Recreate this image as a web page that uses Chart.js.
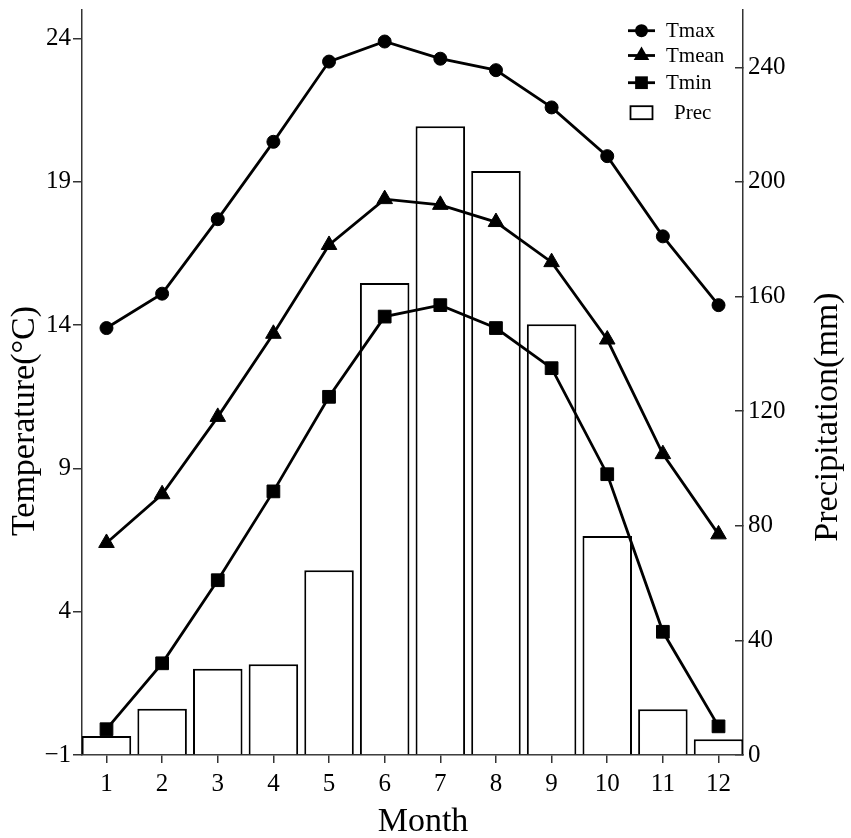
<!DOCTYPE html>
<html>
<head>
<meta charset="utf-8">
<script src="https://cdn.jsdelivr.net/npm/chart.js@4.4.0/dist/chart.umd.min.js"></script>
<style>
    body { margin: 0; background: #fff; }
    #wrap { width: 851px; height: 838px; }
</style>
</head>
<body>
<div id="wrap"><canvas id="climateChart" width="851" height="838"></canvas></div>
<script>
// Monthly climate data
const months = [1, 2, 3, 4, 5, 6, 7, 8, 9, 10, 11, 12];
const tMax = [13.9, 15.1, 17.7, 20.4, 23.2, 23.9, 23.3, 22.9, 21.6, 19.9, 17.1, 14.7];
const tMean = [6.4, 8.1, 10.8, 13.7, 16.8, 18.4, 18.2, 17.6, 16.2, 13.5, 9.5, 6.7];
const tMin = [-0.1, 2.2, 5.1, 8.2, 11.5, 14.3, 14.7, 13.9, 12.5, 8.8, 3.3, 0.0];
const prec = [6.6, 16.1, 30.1, 31.7, 64.5, 164.7, 219.4, 203.8, 150.3, 76.4, 16.0, 5.5];

const tempTicks = [-1, 4, 9, 14, 19, 24];
const precTicks = [0, 40, 80, 120, 160, 200, 240];

const seriesNames = ['Tmax', 'Tmean', 'Tmin', 'Prec'];
const FONT = "'Liberation Serif', 'Times New Roman', serif";

Chart.defaults.font.family = FONT;
Chart.defaults.color = '#000';

function toPoints(values) {
    return months.map((m, i) => ({ x: m, y: values[i] }));
}

function lineSet(label, values, style, radius) {
    return {
        type: 'line',
        label: label,
        data: toPoints(values),
        yAxisID: 'y',
        borderColor: '#000',
        backgroundColor: '#000',
        borderWidth: 2.8,
        pointStyle: style,
        pointRadius: radius,
        pointBorderWidth: 1,
        tension: 0,
        order: 0
    };
}

// Draw a marker like the ones chart.js uses
function drawMarker(ctx, style, x, y, r) {
    ctx.beginPath();
    if (style === 'circle') {
        ctx.arc(x, y, r, 0, Math.PI * 2);
    } else if (style === 'triangle') {
        let rad = 0;
        ctx.moveTo(x + Math.sin(rad) * r, y - Math.cos(rad) * r);
        rad += Math.PI * 2 / 3;
        ctx.lineTo(x + Math.sin(rad) * r, y - Math.cos(rad) * r);
        rad += Math.PI * 2 / 3;
        ctx.lineTo(x + Math.sin(rad) * r, y - Math.cos(rad) * r);
        ctx.closePath();
    } else {
        const h = r * Math.SQRT1_2;
        ctx.rect(x - h, y - h, 2 * h, 2 * h);
    }
    ctx.fill();
}

// Axis titles and the legend box
const decorPlugin = {
    id: 'decor',
    afterDraw(chart) {
        const ctx = chart.ctx;
        const area = chart.chartArea;
        ctx.save();
        ctx.fillStyle = '#000';
        ctx.textAlign = 'center';
        ctx.textBaseline = 'alphabetic';
        ctx.font = '34px ' + FONT;

        ctx.fillText('Month', 423, 831);

        ctx.save();
        ctx.translate(34, 421);
        ctx.rotate(-Math.PI / 2);
        ctx.fillText('Temperature(°C)', 0, 0);
        ctx.restore();

        ctx.save();
        ctx.translate(837, 417);
        ctx.rotate(-Math.PI / 2);
        ctx.fillText('Precipitation(mm)', 0, 0);
        ctx.restore();

        // Legend
        const rowsY = [30.7, 55.5, 82.7, 112.7];
        const lx0 = area.right - 115, lx1 = area.right - 88, mx = area.right - 101.5;
        ctx.font = '21px ' + FONT;
        ctx.textAlign = 'left';
        chart.data.datasets.forEach((ds, i) => {
            const y = rowsY[i];
            if (ds.type === 'line') {
                ctx.strokeStyle = '#000';
                ctx.lineWidth = 2.8;
                ctx.beginPath();
                ctx.moveTo(lx0, y);
                ctx.lineTo(lx1, y);
                ctx.stroke();
                ctx.fillStyle = '#000';
                drawMarker(ctx, ds.pointStyle, mx, y, ds.pointRadius);
                ctx.fillText(seriesNames[i], area.right - 77, y + 6.5);
            } else {
                ctx.strokeStyle = '#000';
                ctx.lineWidth = 1.8;
                ctx.strokeRect(mx - 11, y - 6.5, 22, 13);
                ctx.fillStyle = '#000';
                ctx.fillText(seriesNames[i], area.right - 69, y + 6.5);
            }
        });
        ctx.restore();
    }
};

// fixed axis sizes, no extra label padding
function fixWidth(w) {
    return s => { s.width = w; s.paddingTop = 0; s.paddingBottom = 0; };
}

const ctx = document.getElementById('climateChart');
new Chart(ctx, {
    data: {
        datasets: [
            lineSet(seriesNames[0], tMax, 'circle', 6.5),
            lineSet(seriesNames[1], tMean, 'triangle', 9),
            lineSet(seriesNames[2], tMin, 'rect', 9),
            {
                type: 'bar',
                label: seriesNames[3],
                data: toPoints(prec),
                yAxisID: 'y2',
                backgroundColor: '#fff',
                borderColor: '#000',
                borderWidth: 2,
                categoryPercentage: 1,
                barPercentage: 0.89,
                order: 1
            }
        ]
    },
    options: {
        responsive: false,
        animation: false,
        devicePixelRatio: 1,
        layout: { padding: { top: 7.5, left: 0, right: 0, bottom: 0 } },
        plugins: {
            legend: { display: false },
            tooltip: { enabled: false }
        },
        scales: {
            x: {
                type: 'linear',
                offset: false,
                min: 0.56,
                max: 12.44,
                afterBuildTicks: s => { s.ticks = months.map(v => ({ value: v })); },
                afterFit: s => { s.height = 83; },
                ticks: { font: { size: 25 }, color: '#000', padding: 6, autoSkip: false, maxRotation: 0 },
                grid: { offset: false, drawOnChartArea: false, tickLength: 8, color: '#333', lineWidth: 1.5 },
                border: { color: '#333', width: 1.5 }
            },
            y: {
                type: 'linear',
                position: 'left',
                min: -1,
                max: 25,
                afterBuildTicks: s => { s.ticks = tempTicks.map(v => ({ value: v })); },
                afterFit: fixWidth(82),
                ticks: {
                    font: { size: 25 }, color: '#000', padding: 2,
                    callback: v => (v < 0 ? '\u2212' + Math.abs(v) : v)
                },
                grid: { drawOnChartArea: false, tickLength: 9, color: '#333', lineWidth: 1.5 },
                border: { color: '#333', width: 1.5 }
            },
            y2: {
                type: 'linear',
                position: 'right',
                min: 0,
                max: 260,
                afterBuildTicks: s => { s.ticks = precTicks.map(v => ({ value: v })); },
                afterFit: fixWidth(108),
                ticks: { font: { size: 25 }, color: '#000', padding: 13 },
                grid: { drawOnChartArea: false, tickLength: -8, color: '#333', lineWidth: 1.5 },
                border: { color: '#333', width: 1.5 }
            }
        }
    },
    plugins: [decorPlugin]
});
</script>
</body>
</html>
